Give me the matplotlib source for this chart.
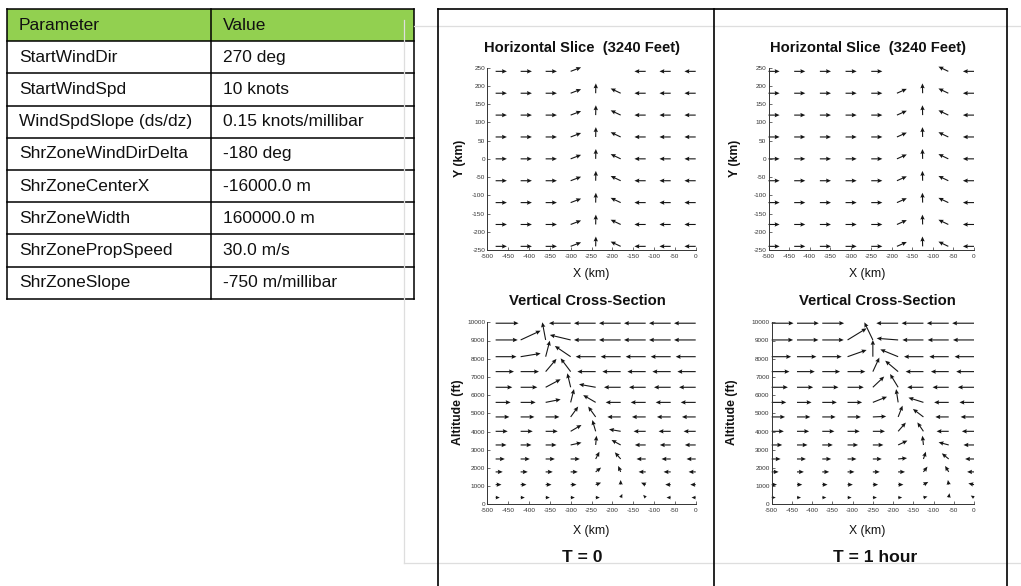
import numpy as np
import matplotlib.pyplot as plt

plt.rcParams['font.family'] = ['Liberation Sans', 'DejaVu Sans']
plt.rcParams['axes.unicode_minus'] = False

W, H = 1021, 586

# shear zone parameters
param_names = ["StartWindDir", "StartWindSpd", "WindSpdSlope (ds/dz)",
               "ShrZoneWindDirDelta", "ShrZoneCenterX", "ShrZoneWidth",
               "ShrZonePropSpeed", "ShrZoneSlope"]
param_values = ["270 deg", "10 knots", "0.15 knots/millibar", "-180 deg",
                "-16000.0 m", "160000.0 m", "30.0 m/s", "-750 m/millibar"]

# horizontal slice at 3240 ft: every row carries the same arrow per column
h_rows = [-240, -180, -120, -60, 0, 60, 120, 180, 240]

t0_h_cols = [-480, -420, -360, -300, -240, -180, -120, -60, 0]
t0_h_u = [27, 27, 27, 25, 0.5, -24, -27, -27, -27]
t0_h_v = [0, 0, 0, 11, 27, 13, 0, 0, 0]
t0_h_top = [1, 1, 1, 1, 0, 0, 1, 1, 1]   # arrows kept in the 240 km row

t1_h_cols = [-500, -437.5, -375, -312.5, -250, -187.5, -125, -62.5, 0]
t1_h_u = [27, 27, 27, 27, 27, 24, -0.5, -24, -27]
t1_h_v = [0, 0, 0, 0, 0, 12, 27, 13, 0]
t1_h_top = [1, 1, 1, 1, 1, 0, 0, 1, 1]

# vertical cross-section: rows bottom to top (ft), u in km, v in ft
altitudes = [370, 1080, 1780, 2490, 3260, 4010, 4800, 5600, 6430, 7290, 8110, 9030, 9950]

t0_v_cols = [-480, -420, -360, -300, -240, -180, -120, -60, 0]
t0_v_u = [
    [10, 10, 10, 10, 10, 4, -6, -10, -10],
    [14, 14, 14, 14, 13, 0, -11, -13, -13],
    [17, 17, 17, 17, 13, -6, -17, -17, -17],
    [22, 22, 22, 22, 9, -14, -22, -22, -22],
    [26, 26, 26, 26, 2, -22, -26, -26, -26],
    [29, 29, 29, 26, -8, -28, -29, -29, -29],
    [33, 33, 33, 18, -18, -32, -33, -33, -33],
    [36, 36, 36, 8, -30, -36, -36, -36, -36],
    [40, 40, 36, -8, -40, -40, -40, -40, -40],
    [44, 44, 26, -24, -44, -44, -44, -44, -44],
    [50, 48, 10, -38, -48, -48, -48, -48, -48],
    [53, 48, -8, -50, -52, -52, -52, -52, -52],
    [55, np.nan, np.nan, -52, -52, -52, -52, -52, -52],
]
t0_v_v = [
    [0, 0, 0, 0, 0, 200, 150, 0, 0],
    [0, 0, 0, 0, 110, 256, 110, 0, 0],
    [0, 0, 0, 0, 240, 330, 0, 0, 0],
    [0, 0, 0, 0, 400, 366, 0, 0, 0],
    [0, 0, 0, 130, 510, 275, 0, 0, 0],
    [0, 0, 0, 350, 620, 110, 0, 0, 0],
    [0, 0, 0, 570, 570, 0, 0, 0, 0],
    [0, 0, 165, 730, 400, 0, 0, 0, 0],
    [0, 0, 440, 770, 165, 0, 0, 0, 0],
    [0, 0, 700, 730, 0, 0, 0, 0, 0],
    [0, 180, 880, 590, 0, 0, 0, 0, 0],
    [0, 510, 970, 275, 0, 0, 0, 0, 0],
    [0, np.nan, np.nan, 0, 0, 0, 0, 0, 0],
]

t1_v_cols = [-500, -437.5, -375, -312.5, -250, -187.5, -125, -62.5, 0]
t1_v_u = [
    [10, 10, 10, 10, 10, 10, 10, 2, -8],
    [13, 13, 13, 13, 13, 13, 12, -2, -14],
    [17, 17, 17, 17, 17, 17, 10, -9, -17],
    [22, 22, 22, 22, 22, 22, 6, -17, -22],
    [26, 26, 26, 26, 26, 23, -2.5, -25, -26],
    [30, 30, 30, 30, 30, 19, -15, -30, -30],
    [33, 33, 33, 33, 33, 11, -26, -33, -33],
    [36, 36, 36, 36, 35, -5, -37, -36, -36],
    [40, 40, 40, 40, 28, -20, -40, -40, -40],
    [44, 44, 44, 44, 16, -32, -44, -44, -44],
    [48, 48, 48, 47, 0, -44, -48, -48, -48],
    [53, 53, 53, 47, -21, -53, -52, -52, -52],
    [54, 54, 54, np.nan, np.nan, -54, -54, -54, -54],
]
t1_v_v = [
    [0, 0, 0, 0, 0, 0, 55, 240, 110],
    [0, 0, 0, 0, 0, 0, 150, 256, 70],
    [0, 0, 0, 0, 0, 0, 290, 330, 0],
    [0, 0, 0, 0, 0, 50, 400, 310, 0],
    [0, 0, 0, 0, 0, 240, 510, 150, 0],
    [0, 0, 0, 0, 0, 480, 490, 0, 0],
    [0, 0, 0, 0, 30, 620, 440, 0, 0],
    [0, 0, 0, 0, 310, 730, 260, 0, 0],
    [0, 0, 0, 0, 590, 730, 0, 0, 0],
    [0, 0, 0, 0, 770, 600, 0, 0, 0],
    [0, 0, 0, 370, 920, 400, 0, 0, 0],
    [0, 0, 0, 640, 970, 90, 0, 0, 0],
    [0, 0, 0, np.nan, np.nan, 0, 0, 0, 0],
]


def slice_grid(u, v, top):
    U = np.tile(np.array(u, float), (len(h_rows), 1))
    V = np.tile(np.array(v, float), (len(h_rows), 1))
    gone = np.array(top) == 0
    U[-1, gone] = np.nan
    V[-1, gone] = np.nan
    return U, V


def draw_arrows(ax, xs, ys, U, V):
    X, Y = np.meshgrid(xs, ys)
    U = np.ma.masked_invalid(np.array(U, float))
    V = np.ma.masked_invalid(np.array(V, float))
    ax.quiver(X, Y, U, V, angles='xy', scale_units='xy', scale=1,
              units='dots', width=1.1, headwidth=4, headlength=4.5,
              headaxislength=4, color='#151515', clip_on=False)


def style_axes(ax):
    for side in ['top', 'right']:
        ax.spines[side].set_visible(False)
    for side in ['left', 'bottom']:
        ax.spines[side].set_linewidth(0.7)
        ax.spines[side].set_color('#333333')
    ax.tick_params(direction='in', length=2, width=0.5, labelsize=4.6,
                   colors='#333333', pad=1.5)
    ax.tick_params(axis='x', pad=3)


def rect(x0, x1, ytop, ybot):
    return [x0 / W, 1 - ybot / H, (x1 - x0) / W, (ybot - ytop) / H]


fig = plt.figure(figsize=(W / 100, H / 100), dpi=100)

# page layer in pixel coordinates
bg = fig.add_axes([0, 0, 1, 1])
bg.set_xlim(0, W)
bg.set_ylim(H, 0)
bg.axis('off')

# parameter table
tx0, tx1, tx2 = 7, 211, 414
ty0, row_h = 9, 32.2
bg.add_patch(plt.Rectangle((tx0, ty0), tx2 - tx0, row_h, color='#92D050', lw=0))
n_rows = len(param_names) + 1
for i in range(n_rows + 1):
    bg.plot([tx0, tx2], [ty0 + i * row_h] * 2, color='black', lw=1.1)
for xv in [tx0, tx1, tx2]:
    bg.plot([xv, xv], [ty0, ty0 + n_rows * row_h], color='black', lw=1.1)
rows_text = [("Parameter", "Value")] + list(zip(param_names, param_values))
for i, (name, val) in enumerate(rows_text):
    yc = ty0 + (i + 0.5) * row_h
    bg.text(tx0 + 12, yc, name, fontsize=12.5, va='center', ha='left', color='#111111')
    bg.text(tx1 + 12, yc, val, fontsize=12.5, va='center', ha='left', color='#111111')

# faint slide outline
gray = '#dedede'
bg.plot([404, 404], [20, 563], color=gray, lw=0.9)
bg.plot([414, W], [26, 26], color=gray, lw=0.9)
bg.plot([404, W], [563, 563], color=gray, lw=0.9)

# panel frame
bg.plot([438, 1007], [9, 9], color='black', lw=1.2)
for xv in [438, 714, 1007]:
    bg.plot([xv, xv], [9, H], color='black', lw=1.2)

# plots
ax_h0 = fig.add_axes(rect(487.3, 695.7, 67.7, 250))
ax_h1 = fig.add_axes(rect(768.5, 974, 67.7, 250))
ax_v0 = fig.add_axes(rect(487.3, 695.7, 322.3, 504.3))
ax_v1 = fig.add_axes(rect(771.7, 974, 322.3, 504.3))

U, V = slice_grid(t0_h_u, t0_h_v, t0_h_top)
draw_arrows(ax_h0, t0_h_cols, h_rows, U, V)
U, V = slice_grid(t1_h_u, t1_h_v, t1_h_top)
draw_arrows(ax_h1, t1_h_cols, h_rows, U, V)
draw_arrows(ax_v0, t0_v_cols, altitudes, t0_v_u, t0_v_v)
draw_arrows(ax_v1, t1_v_cols, altitudes, t1_v_u, t1_v_v)

for ax in [ax_h0, ax_h1]:
    ax.set_xlim(-500, 0)
    ax.set_ylim(-250, 250)
    ax.set_xticks(range(-500, 1, 50))
    ax.set_yticks(range(-250, 251, 50))
    style_axes(ax)
for ax in [ax_v0, ax_v1]:
    ax.set_xlim(-500, 0)
    ax.set_ylim(0, 10000)
    ax.set_xticks(range(-500, 1, 50))
    ax.set_yticks(range(0, 10001, 1000))
    style_axes(ax)

# titles and labels
for xc in [582, 867.5]:
    bg.text(xc, 48, "Horizontal Slice  (3240 Feet)", fontsize=10.6, fontweight='bold',
            ha='center', va='center', color='#111111')
for xc in [587, 877]:
    bg.text(xc, 301, "Vertical Cross-Section", fontsize=10.6, fontweight='bold',
            ha='center', va='center', color='#111111')
for xc in [591, 867]:
    bg.text(xc, 274, "X (km)", fontsize=8.8, ha='center', va='center', color='#111111')
for xc in [591, 867]:
    bg.text(xc, 531, "X (km)", fontsize=8.8, ha='center', va='center', color='#111111')
for xc in [460, 735]:
    bg.text(xc, 158, "Y (km)", fontsize=8.8, fontweight='bold', rotation=90,
            ha='center', va='center', color='#111111')
for xc in [458, 732]:
    bg.text(xc, 412, "Altitude (ft)", fontsize=8.8, fontweight='bold', rotation=90,
            ha='center', va='center', color='#111111')
bg.text(582, 558, "T = 0", fontsize=12.6, fontweight='bold', ha='center', va='center',
        color='#111111')
bg.text(875, 558, "T = 1 hour", fontsize=12.6, fontweight='bold', ha='center', va='center',
        color='#111111')

fig.savefig('out.png', dpi=100)
